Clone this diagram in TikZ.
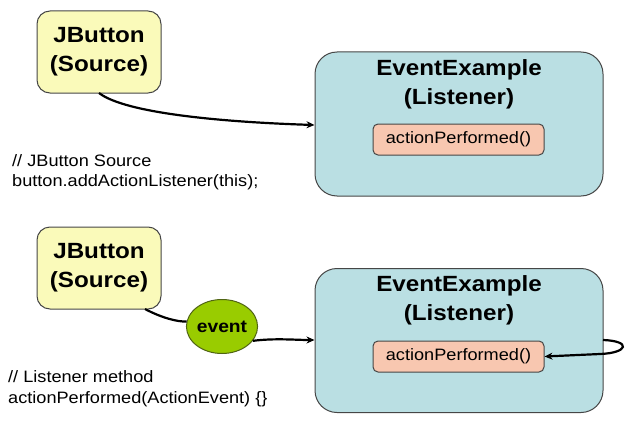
\documentclass[tikz,border=0pt]{standalone}
\usepackage{fontspec}
\setmainfont{Liberation Sans}[FakeStretch=1.1]
\usetikzlibrary{arrows.meta,shapes.geometric}
\definecolor{srcfill}{RGB}{250,250,186}
\definecolor{lisfill}{RGB}{186,223,227}
\definecolor{methfill}{RGB}{248,199,176}
\definecolor{evfill}{RGB}{153,204,0}
\definecolor{evdraw}{RGB}{80,100,20}
\definecolor{bord}{RGB}{70,70,70}
\tikzset{
  srcbox/.style={draw=bord, line width=1pt, fill=srcfill, rounded corners=13pt,
    minimum width=124pt, minimum height=82pt, align=center,
    font=\fontsize{22}{29}\selectfont\bfseries, inner sep=0pt},
  lisbox/.style={draw=bord, line width=1pt, fill=lisfill, rounded corners=22pt,
    minimum width=288pt, minimum height=144pt, inner sep=0pt},
  listitle/.style={anchor=base, font=\fontsize{22}{29}\selectfont\bfseries, inner sep=0pt},
  methbox/.style={draw=bord, line width=1pt, fill=methfill, rounded corners=5pt,
    minimum width=171pt, minimum height=31pt, inner sep=0pt,
    font=\fontsize{16.5}{20}\selectfont},
  evnode/.style={ellipse, draw=evdraw, line width=1pt, fill=evfill,
    minimum width=62pt, minimum height=54pt, inner sep=0pt,
    font=\fontsize{17.5}{20}\selectfont\bfseries},
  codetxt/.style={anchor=base west, inner sep=0pt, font=\fontsize{16.5}{20}\selectfont},
  conn/.style={line width=2.2pt, -{Stealth[length=8pt,width=7pt]}},
  plain/.style={line width=2.2pt}
}
\begin{document}
\begin{tikzpicture}[x=1pt,y=-1pt]
\useasboundingbox (0,0) rectangle (628,420);
% top
\node[srcbox] (src1) at (99,52) {JButton\\(Source)};
\node[lisbox] (lis1) at (459,124) {};
\node[listitle] (t1a) at (459,75) {EventExample};
\node[listitle] (t1b) at (459,104) {(Listener)};
\node[methbox] (m1) at (458.5,139.5) {actionPerformed()};
\node[codetxt] (c1a) at (12,166) {// JButton Source};
\node[codetxt] (c1b) at (12,186) {button.addActionListener(this);};
\coordinate (s1) at (99,93);
\coordinate (e1) at (315,125);
\draw[conn] (s1) .. controls (125,113) and (220,122) .. (lis1.west |- e1);
% bottom
\node[srcbox] (src2) at (99,268) {JButton\\(Source)};
\node[lisbox] (lis2) at (459,340.5) {};
\node[listitle] (t2a) at (459,291) {EventExample};
\node[listitle] (t2b) at (459,320) {(Listener)};
\node[methbox] (m2) at (458.5,356.5) {actionPerformed()};
\node[evnode] (ev) at (222,326.5) {event};
\node[codetxt] (c2a) at (8,382) {// Listener method};
\node[codetxt] (c2b) at (8,403) {actionPerformed(ActionEvent) \{\}};
\coordinate (s2) at (145,309);
\coordinate (e2) at (315,340);
\draw[plain] (s2) .. controls (162,318) and (178,322) .. (ev.172);
\draw[conn] (ev.-25) .. controls (275,338) and (295,340) .. (lis2.west |- e2);
\coordinate (l1) at (603,340);
\draw[conn] (l1) .. controls (632,341) and (628,353) .. (600,354) -- (m2.east);
\end{tikzpicture}
\end{document}
